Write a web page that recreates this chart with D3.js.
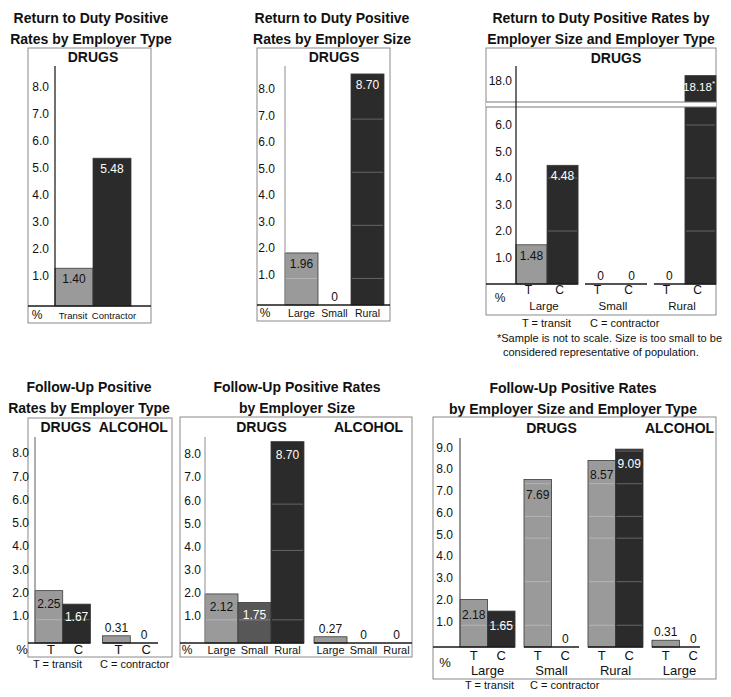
<!DOCTYPE html>
<html>
<head>
<meta charset="utf-8">
<script src="https://cdn.jsdelivr.net/npm/d3@7"></script>
<style>
  body { margin: 0; background: #fff; }
  svg { font-family: "Liberation Sans", Arial, sans-serif; }
  .title { font-size: 14px; font-weight: bold; text-anchor: middle; fill: #111; }
  .head { font-size: 14px; font-weight: bold; text-anchor: middle; fill: #111; }
  .val { font-size: 12px; text-anchor: middle; }
</style>
</head>
<body>
<div id="chart"></div>
<script>
// categories
const typeLabels = ["Transit", "Contractor"];
const typeShort = ["T", "C"];
const sizeLabels = ["Large", "Small", "Rural"];

// tick labels
const ticks8 = [1, 2, 3, 4, 5, 6, 7, 8];
const ticks9 = [1, 2, 3, 4, 5, 6, 7, 8, 9];
const ticksLow = [1, 2, 3, 4, 5, 6];
const ticksHigh = [18];

// Return to duty positive rates (drugs), %
const rtdByType = [1.40, 5.48];
const rtdBySize = [1.96, 0, 8.70];
const rtdBySizeType = [[1.48, 4.48], [0, 0], [0, 18.18]]; // per size: [T, C]
const rtdNotToScale = ["Rural", "C"];

// Follow-up positive rates, %
const fuByTypeDrugs = [2.25, 1.67];
const fuByTypeAlcohol = [0.31, 0];
const fuBySizeDrugs = [2.12, 1.75, 8.70];
const fuBySizeAlcohol = [0.27, 0, 0];
const fuBySizeTypeDrugs = [[2.18, 1.65], [7.69, 0], [8.57, 9.09]];
const fuBySizeTypeAlcohol = [[0.31, 0]]; // Large only

const LIGHT = "#9a9a9a", MID = "#575757", DARK = "#2b2b2b";
const typeColors = [LIGHT, DARK];
const sizeColors = [LIGHT, MID, DARK];
const NARROW = '"Liberation Sans Narrow", "Arial Narrow", "Nimbus Sans Narrow", "Liberation Sans", sans-serif';
const fmt1 = d3.format(".1f");
const fmt2 = d3.format(".2f");

let svg = d3.select("#chart").append("svg")
  .attr("width", 731)
  .attr("height", 697);

function panel(p) {
  let g = svg.append("g");

  p.title.forEach((t, i) => {
    g.append("text").attr("class", "title")
      .attr("x", p.titleX).attr("y", p.titleY + i * 21).text(t);
  });

  let [bx0, by0, bx1, by1] = p.box;
  g.append("rect")
    .attr("x", bx0).attr("y", by0)
    .attr("width", bx1 - bx0).attr("height", by1 - by0)
    .attr("fill", "none").attr("stroke", "#8a8a8a");

  p.headers.forEach(h => {
    g.append("text").attr("class", "head").attr("x", h.x).attr("y", p.headY).text(h.text);
  });

  let base = p.segments[0].range()[0];

  // bars (split over the scale segments, for the broken axis)
  p.bars.forEach(b => {
    let top = base;
    p.segments.forEach(s => {
      let [d0, d1] = s.domain();
      if (b.value <= d0) return;
      let v = Math.min(b.value, d1);
      g.append("rect")
        .attr("x", b.x).attr("width", b.w)
        .attr("y", s(v)).attr("height", s(d0) - s(v))
        .attr("fill", b.fill)
        .attr("stroke", "#3a3a3a").attr("stroke-width", 0.8);
      p.grid.filter(k => k > d0 && k < v).forEach(k => {
        g.append("line")
          .attr("x1", b.x + 1).attr("x2", b.x + b.w - 1)
          .attr("y1", s(k)).attr("y2", s(k))
          .attr("stroke", "#fff").attr("stroke-opacity", 0.28);
      });
      top = s(v);
    });

    let ty, col;
    if (b.value < 0.6) { ty = top - 4; col = "#111"; }
    else { ty = top + p.labelDy; col = b.fill === LIGHT ? "#111" : "#fff"; }
    let t = g.append("text").attr("class", "val")
      .attr("x", b.star ? b.x + b.w - 1 : b.x + b.w / 2).attr("y", ty).attr("fill", col)
      .text(b.value === 0 ? "0" : fmt2(b.value));
    if (b.star) {
      t.style("text-anchor", "end").style("font-size", "11.5px");
      t.append("tspan").style("font-size", "8px").attr("dy", -5).text("*");
    }
  });

  // break band
  if (p.segments.length > 1) {
    let yTop = p.segments[1].range()[0], yBot = p.segments[0].range()[1];
    g.append("rect").attr("x", bx0).attr("y", yTop).attr("width", bx1 - bx0)
      .attr("height", yBot - yTop).attr("fill", "#fff");
    [yTop, yBot].forEach(yy => {
      g.append("line").attr("x1", bx0).attr("x2", bx1).attr("y1", yy).attr("y2", yy)
        .attr("stroke", "#777");
    });
  }

  // axis line
  g.append("line")
    .attr("x1", p.axisX).attr("x2", p.axisX)
    .attr("y1", base).attr("y2", p.axisTop)
    .attr("stroke", p.axisColor).attr("stroke-width", 1.2);

  // tick labels
  p.segments.forEach((s, i) => {
    let ax = g.append("g")
      .attr("transform", `translate(${p.axisX},0)`)
      .call(d3.axisLeft(s).tickValues(p.segTicks[i]).tickSize(0)
        .tickPadding(p.tickPad).tickFormat(fmt1));
    ax.select(".domain").remove();
    ax.attr("font-size", 12).attr("font-family", '"Liberation Sans", Arial, sans-serif');
    ax.selectAll("text").attr("dy", p.tickDy).attr("fill", "#111");
  });

  // baselines
  p.baselines.forEach(([x0, x1]) => {
    g.append("line").attr("x1", x0).attr("x2", x1).attr("y1", base).attr("y2", base)
      .attr("stroke", "#1a1a1a").attr("stroke-width", 1.3);
  });

  // category labels and notes
  p.texts.forEach(c => {
    g.append("text")
      .attr("x", c.x).attr("y", c.y)
      .attr("text-anchor", c.anchor || "middle")
      .attr("font-size", c.size)
      .attr("font-family", c.narrow ? NARROW : null)
      .attr("fill", "#111")
      .text(c.text);
  });
}

// ---------- Return to Duty by Employer Type ----------
let x1 = d3.scaleBand().domain(typeLabels).range([55, 131]);
let y1 = d3.scaleLinear().domain([0, 8.9]).range([306, 66]);
panel({
  title: ["Return to Duty Positive", "Rates by Employer Type"], titleX: 91, titleY: 23,
  box: [28, 48, 151, 323],
  headY: 62, headers: [{ text: "DRUGS", x: 93 }],
  segments: [y1], segTicks: [ticks8], tickPad: 6, tickDy: "0",
  axisX: 55, axisTop: 66, axisColor: "#111",
  bars: typeLabels.map((c, i) => ({ x: x1(c), w: x1.bandwidth(), value: rtdByType[i], fill: typeColors[i] })),
  grid: [], labelDy: 15,
  baselines: [[28, 151]],
  texts: [{ text: "%", x: 37, y: 319, size: 12 }]
    .concat(typeLabels.map(c => ({ text: c, x: x1(c) + x1.bandwidth() / 2 + (c === "Transit" ? -1 : 2), y: 319, size: 9.5, narrow: true })))
});

// ---------- Return to Duty by Employer Size ----------
let x2 = d3.scaleBand().domain(sizeLabels).range([285, 384]);
let y2 = d3.scaleLinear().domain([0, 9.0]).range([305, 66]);
panel({
  title: ["Return to Duty Positive", "Rates by Employer Size"], titleX: 332, titleY: 23,
  box: [257, 48, 390, 321],
  headY: 62, headers: [{ text: "DRUGS", x: 334 }],
  segments: [y2], segTicks: [ticks8], tickPad: 10, tickDy: "0",
  axisX: 285, axisTop: 66, axisColor: "#a0a0a0",
  bars: sizeLabels.map((c, i) => ({ x: x2(c), w: x2.bandwidth(), value: rtdBySize[i], fill: sizeColors[i] })),
  grid: [1, 3, 5, 7], labelDy: 15,
  baselines: [[257, 390]],
  texts: [{ text: "%", x: 265, y: 317, size: 12 }]
    .concat(sizeLabels.map(c => ({ text: c, x: x2(c) + x2.bandwidth() / 2, y: 317, size: 10.5, narrow: true })))
});

// ---------- Return to Duty by Employer Size and Type ----------
let o3 = d3.scaleBand().domain(sizeLabels).range([516, 716]).paddingInner(0.1);
let i3 = d3.scaleBand().domain(typeShort).range([0, o3.bandwidth()]);
let y3Low = d3.scaleLinear().domain([0, 6.68]).range([284, 107]);
let y3High = d3.scaleLinear().domain([17.3, 18.5]).range([102, 66]);
let bars3 = [];
sizeLabels.forEach((s, i) => typeShort.forEach((t, j) => {
  bars3.push({
    x: o3(s) + i3(t), w: i3.bandwidth(), value: rtdBySizeType[i][j], fill: typeColors[j],
    star: s === rtdNotToScale[0] && t === rtdNotToScale[1]
  });
}));
let texts3 = [{ text: "%", x: 500, y: 302, size: 12 }];
sizeLabels.forEach(s => {
  typeShort.forEach(t => texts3.push({ text: t, x: o3(s) + i3(t) + i3.bandwidth() / 2 - 3, y: 294, size: 12, narrow: true }));
  texts3.push({ text: s, x: o3(s) + o3.bandwidth() / 2 - 3, y: 310, size: 11.5, narrow: true });
});
texts3.push(
  { text: "T =  transit", x: 522, y: 327, size: 11, narrow: true, anchor: "start" },
  { text: "C = contractor", x: 590, y: 327, size: 11, narrow: true, anchor: "start" },
  { text: "*Sample is not to scale. Size is too small to be", x: 497, y: 342, size: 11, narrow: true, anchor: "start" },
  { text: "considered representative of population.", x: 503, y: 356, size: 11, narrow: true, anchor: "start" }
);
panel({
  title: ["Return to Duty Positive Rates by", "Employer Size and Employer Type"], titleX: 601, titleY: 23,
  box: [486, 48, 716, 315],
  headY: 63, headers: [{ text: "DRUGS", x: 616 }],
  segments: [y3Low, y3High], segTicks: [ticksLow, ticksHigh], tickPad: 4, tickDy: "0.32em",
  axisX: 516, axisTop: 66, axisColor: "#111",
  bars: bars3,
  grid: [2, 4, 6], labelDy: 15,
  baselines: [[486, o3("Large") + o3.bandwidth()]].concat(
    sizeLabels.slice(1).map(s => [o3(s), o3(s) + o3.bandwidth()])),
  texts: texts3
});

// ---------- Follow-Up by Employer Type ----------
let o4 = d3.scaleBand().domain(["DRUGS", "ALCOHOL"]).range([35, 158]).paddingInner(0.18);
let i4 = d3.scaleBand().domain(typeShort).range([0, o4.bandwidth()]);
let y4 = d3.scaleLinear().domain([0, 8.85]).range([643, 437]);
let bars4 = [];
let texts4 = [{ text: "%", x: 22, y: 654, size: 13 }];
[["DRUGS", fuByTypeDrugs], ["ALCOHOL", fuByTypeAlcohol]].forEach(([sec, vals]) => {
  typeShort.forEach((t, j) => {
    bars4.push({ x: o4(sec) + i4(t), w: i4.bandwidth(), value: vals[j], fill: typeColors[j] });
    texts4.push({ text: t, x: o4(sec) + i4(t) + i4.bandwidth() / 2 + 2, y: 654, size: 13 });
  });
});
texts4.push(
  { text: "T = transit", x: 33, y: 668, size: 11, narrow: true, anchor: "start" },
  { text: "C = contractor", x: 100, y: 668, size: 11, narrow: true, anchor: "start" }
);
panel({
  title: ["Follow-Up Positive", "Rates by Employer Type"], titleX: 89, titleY: 392,
  box: [28, 418, 172, 657],
  headY: 432,
  headers: [{ text: "DRUGS", x: o4("DRUGS") + o4.bandwidth() / 2 + 3 },
            { text: "ALCOHOL", x: o4("ALCOHOL") + o4.bandwidth() / 2 + 3 }],
  segments: [y4], segTicks: [ticks8], tickPad: 6, tickDy: "0",
  axisX: 35, axisTop: 437, axisColor: "#777",
  bars: bars4,
  grid: [1], labelDy: 17,
  baselines: [[28, o4("DRUGS") + o4.bandwidth()], [o4("ALCOHOL"), o4("ALCOHOL") + o4.bandwidth()]],
  texts: texts4
});

// ---------- Follow-Up by Employer Size ----------
let o5 = d3.scaleBand().domain(["DRUGS", "ALCOHOL"]).range([205, 413]).paddingInner(0.092);
let i5 = d3.scaleBand().domain(sizeLabels).range([0, o5.bandwidth()]);
let y5 = d3.scaleLinear().domain([0, 8.9]).range([643, 437]);
let bars5 = [];
let texts5 = [{ text: "%", x: 187, y: 654, size: 12 }];
[["DRUGS", fuBySizeDrugs], ["ALCOHOL", fuBySizeAlcohol]].forEach(([sec, vals]) => {
  sizeLabels.forEach((s, j) => {
    bars5.push({ x: o5(sec) + i5(s), w: i5.bandwidth(), value: vals[j], fill: sec === "DRUGS" ? sizeColors[j] : LIGHT });
    texts5.push({ text: s, x: o5(sec) + i5(s) + i5.bandwidth() / 2, y: 654, size: 11, narrow: true });
  });
});
panel({
  title: ["Follow-Up Positive Rates", "by Employer Size"], titleX: 297, titleY: 392,
  box: [180, 417, 412, 657],
  headY: 432,
  headers: [{ text: "DRUGS", x: o5("DRUGS") + o5.bandwidth() / 2 + 7 },
            { text: "ALCOHOL", x: o5("ALCOHOL") + o5.bandwidth() / 2 + 5 }],
  segments: [y5], segTicks: [ticks8], tickPad: 4, tickDy: "0",
  axisX: 205, axisTop: 437, axisColor: "#a0a0a0",
  bars: bars5,
  grid: [1, 4, 6], labelDy: 17,
  baselines: [[180, o5("DRUGS") + o5.bandwidth()], [o5("ALCOHOL"), 412]],
  texts: texts5
});

// ---------- Follow-Up by Employer Size and Type ----------
let groups6 = [
  { key: "dLarge", label: "Large", vals: fuBySizeTypeDrugs[0] },
  { key: "dSmall", label: "Small", vals: fuBySizeTypeDrugs[1] },
  { key: "dRural", label: "Rural", vals: fuBySizeTypeDrugs[2] },
  { key: "aLarge", label: "Large", vals: fuBySizeTypeAlcohol[0] }
];
let o6 = d3.scaleBand().domain(groups6.map(d => d.key)).range([460, 707]).paddingInner(0.14);
let i6 = d3.scaleBand().domain(typeShort).range([0, o6.bandwidth()]);
let y6 = d3.scaleLinear().domain([0, 9.6]).range([647, 438]);
let bars6 = [];
let texts6 = [{ text: "%", x: 445, y: 667, size: 13 }];
groups6.forEach(gr => {
  typeShort.forEach((t, j) => {
    bars6.push({ x: o6(gr.key) + i6(t), w: i6.bandwidth(), value: gr.vals[j], fill: typeColors[j] });
    texts6.push({ text: t, x: o6(gr.key) + i6(t) + i6.bandwidth() / 2, y: 660, size: 13 });
  });
  texts6.push({ text: gr.label, x: o6(gr.key) + o6.bandwidth() / 2, y: 675, size: 13 });
});
texts6.push(
  { text: "T = transit", x: 465, y: 689, size: 11, narrow: true, anchor: "start" },
  { text: "C = contractor", x: 530, y: 689, size: 11, narrow: true, anchor: "start" }
);
let c6 = k => o6(k) + o6.bandwidth() / 2;
panel({
  title: ["Follow-Up Positive Rates", "by Employer Size and Employer Type"], titleX: 573, titleY: 393,
  box: [433, 417, 716, 679],
  headY: 433,
  headers: [{ text: "DRUGS", x: d3.mean(["dLarge", "dSmall", "dRural"], c6) },
            { text: "ALCOHOL", x: c6("aLarge") }],
  segments: [y6], segTicks: [ticks9], tickPad: 7, tickDy: "0",
  axisX: 460, axisTop: 438, axisColor: "#555",
  bars: bars6,
  grid: [1, 3, 5, 6, 7.5, 9], labelDy: 19,
  baselines: groups6.map((gr, i) => [i === 0 ? 433 : o6(gr.key),
    o6(gr.key) + o6.bandwidth() - (gr.key === "aLarge" ? 7 : 0)]),
  texts: texts6
});
</script>
</body>
</html>
